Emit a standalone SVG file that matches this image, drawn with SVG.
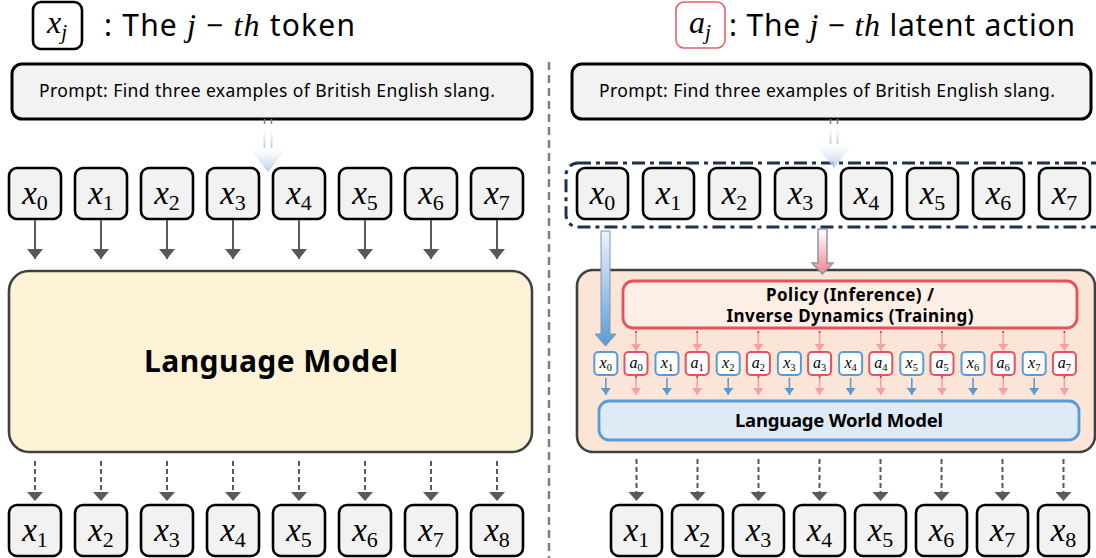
<svg xmlns="http://www.w3.org/2000/svg" width="1096" height="558" viewBox="0 0 1096 558">
<style>
.sans{font-family:"Noto Sans","Open Sans","DejaVu Sans",sans-serif;fill:#000}
.bold{font-weight:700}
.mi{font-family:"Liberation Serif","Times New Roman",serif;font-style:italic}
.tok rect{fill:#f2f2f2;stroke:#000;stroke-width:2.6}
.tok text{font-family:"Liberation Serif","Times New Roman",serif;text-anchor:middle;font-size:33px;fill:#000}
.tok .v{font-style:italic}
.tok .s{font-size:22px;font-style:normal}
.mx rect{fill:#fff;stroke:#5b9bd5;stroke-width:2}
.ma rect{fill:#fff;stroke:#e8505b;stroke-width:2}
.mini text{font-family:"Liberation Serif","Times New Roman",serif;text-anchor:middle;font-size:16px;fill:#000}
.mini .v{font-style:italic}
.mini .s{font-size:10.5px}
.ga{stroke:#595959;stroke-width:2;fill:none}
.gd{stroke:#595959;stroke-width:2;fill:none;stroke-dasharray:5 3}
.pa{stroke:#f4a0a6;stroke-width:1.6;fill:none}
.ba{stroke:#5b9bd5;stroke-width:1.6;fill:none}
.dot{fill:#c0304a}
</style>
<defs>
<marker id="hG" markerUnits="userSpaceOnUse" markerWidth="10" markerHeight="16" refX="10" refY="8" orient="auto" viewBox="0 0 10 16"><path d="M0,0L10,8L0,16z" fill="#595959"/></marker>
<marker id="hP" markerUnits="userSpaceOnUse" markerWidth="7" markerHeight="10" refX="7" refY="5" orient="auto" viewBox="0 0 7 10"><path d="M0,0L7,5L0,10z" fill="#f4a0a6"/></marker>
<marker id="hB" markerUnits="userSpaceOnUse" markerWidth="7" markerHeight="10" refX="7" refY="5" orient="auto" viewBox="0 0 7 10"><path d="M0,0L7,5L0,10z" fill="#5b9bd5"/></marker>
<linearGradient id="gBlue" x1="0" y1="0" x2="0" y2="1"><stop offset="0" stop-color="#eef3fa"/><stop offset="1" stop-color="#5b9bd5"/></linearGradient>
<linearGradient id="gPink" x1="0" y1="0" x2="0" y2="1"><stop offset="0" stop-color="#ffffff"/><stop offset="1" stop-color="#f4868a"/></linearGradient>
<linearGradient id="gPrompt" x1="0" y1="0" x2="0" y2="1"><stop offset="0" stop-color="#ffffff" stop-opacity="0.3"/><stop offset="1" stop-color="#b4c7e7"/></linearGradient>
</defs>

<!-- divider -->
<line x1="549" y1="62" x2="549" y2="558" stroke="#808080" stroke-width="2.5" stroke-dasharray="8 5"/>

<!-- legends -->
<g id="legend-token">
<rect x="33" y="2" width="49" height="47" rx="8" fill="#fff" stroke="#000" stroke-width="2.6"/>
<text x="57" y="33" class="mi" font-size="32" text-anchor="middle">x<tspan font-size="21" dy="6">j</tspan></text>
<text x="104" y="36" class="sans" font-size="30" textLength="251">: The <tspan class="mi" font-size="32">j</tspan> − <tspan class="mi" font-size="32">th</tspan> token</text>
</g>
<g id="legend-action">
<rect x="676" y="2" width="49" height="46" rx="8" fill="#fff" stroke="#e8606a" stroke-width="1.6"/>
<text x="700" y="33" class="mi" font-size="32" text-anchor="middle">a<tspan font-size="21" dy="6">j</tspan></text>
<text x="729" y="36" class="sans" font-size="30" textLength="346">: The <tspan class="mi" font-size="32">j</tspan> − <tspan class="mi" font-size="32">th</tspan> latent action</text>
</g>

<!-- prompts -->
<g id="prompt-left">
<rect x="12" y="64" width="520" height="55" rx="10" fill="#f2f2f2" stroke="#000" stroke-width="3"/>
<text x="39" y="97" class="sans" font-size="17.5" textLength="456">Prompt: Find three examples of British English slang.</text>
</g>
<g id="prompt-right">
<rect x="572" y="64" width="519" height="55" rx="10" fill="#f2f2f2" stroke="#000" stroke-width="3"/>
<text x="599" y="97" class="sans" font-size="17.5" textLength="456">Prompt: Find three examples of British English slang.</text>
</g>

<!-- right input group outline -->
<rect id="input-group" x="566" y="163" width="545" height="64" rx="12" fill="none" stroke="#1f3050" stroke-width="3" stroke-dasharray="13 5 4 5"/>

<!-- left top tokens -->
<g id="left-input" class="tok">
<g id="L-in-0"><rect x="9" y="168" width="52" height="51" rx="8"/><text x="35" y="204"><tspan class="v">x</tspan><tspan class="s" dy="6">0</tspan></text></g>
<g id="L-in-1"><rect x="75" y="168" width="52" height="51" rx="8"/><text x="101" y="204"><tspan class="v">x</tspan><tspan class="s" dy="6">1</tspan></text></g>
<g id="L-in-2"><rect x="141" y="168" width="52" height="51" rx="8"/><text x="167" y="204"><tspan class="v">x</tspan><tspan class="s" dy="6">2</tspan></text></g>
<g id="L-in-3"><rect x="207" y="168" width="52" height="51" rx="8"/><text x="233" y="204"><tspan class="v">x</tspan><tspan class="s" dy="6">3</tspan></text></g>
<g id="L-in-4"><rect x="273" y="168" width="52" height="51" rx="8"/><text x="299" y="204"><tspan class="v">x</tspan><tspan class="s" dy="6">4</tspan></text></g>
<g id="L-in-5"><rect x="339" y="168" width="52" height="51" rx="8"/><text x="365" y="204"><tspan class="v">x</tspan><tspan class="s" dy="6">5</tspan></text></g>
<g id="L-in-6"><rect x="405" y="168" width="52" height="51" rx="8"/><text x="431" y="204"><tspan class="v">x</tspan><tspan class="s" dy="6">6</tspan></text></g>
<g id="L-in-7"><rect x="471" y="168" width="52" height="51" rx="8"/><text x="497" y="204"><tspan class="v">x</tspan><tspan class="s" dy="6">7</tspan></text></g>
</g>

<!-- left language model -->
<g id="language-model">
<rect x="9" y="271" width="523" height="181" rx="20" fill="#fef3d6" stroke="#404040" stroke-width="2.6"/>
<text x="271" y="372" class="sans bold" font-size="30" text-anchor="middle" textLength="254">Language Model</text>
</g>

<!-- left output tokens -->
<g id="left-output" class="tok">
<g id="L-out-1"><rect x="9" y="505" width="52" height="51" rx="8"/><text x="35" y="541"><tspan class="v">x</tspan><tspan class="s" dy="6">1</tspan></text></g>
<g id="L-out-2"><rect x="75" y="505" width="52" height="51" rx="8"/><text x="101" y="541"><tspan class="v">x</tspan><tspan class="s" dy="6">2</tspan></text></g>
<g id="L-out-3"><rect x="141" y="505" width="52" height="51" rx="8"/><text x="167" y="541"><tspan class="v">x</tspan><tspan class="s" dy="6">3</tspan></text></g>
<g id="L-out-4"><rect x="207" y="505" width="52" height="51" rx="8"/><text x="233" y="541"><tspan class="v">x</tspan><tspan class="s" dy="6">4</tspan></text></g>
<g id="L-out-5"><rect x="273" y="505" width="52" height="51" rx="8"/><text x="299" y="541"><tspan class="v">x</tspan><tspan class="s" dy="6">5</tspan></text></g>
<g id="L-out-6"><rect x="339" y="505" width="52" height="51" rx="8"/><text x="365" y="541"><tspan class="v">x</tspan><tspan class="s" dy="6">6</tspan></text></g>
<g id="L-out-7"><rect x="405" y="505" width="52" height="51" rx="8"/><text x="431" y="541"><tspan class="v">x</tspan><tspan class="s" dy="6">7</tspan></text></g>
<g id="L-out-8"><rect x="471" y="505" width="52" height="51" rx="8"/><text x="497" y="541"><tspan class="v">x</tspan><tspan class="s" dy="6">8</tspan></text></g>
</g>

<!-- right top tokens -->
<g id="right-input" class="tok">
<g id="R-in-0"><rect x="577" y="168" width="51" height="51" rx="8"/><text x="602.5" y="204"><tspan class="v">x</tspan><tspan class="s" dy="6">0</tspan></text></g>
<g id="R-in-1"><rect x="643" y="168" width="51" height="51" rx="8"/><text x="668.5" y="204"><tspan class="v">x</tspan><tspan class="s" dy="6">1</tspan></text></g>
<g id="R-in-2"><rect x="709" y="168" width="51" height="51" rx="8"/><text x="734.5" y="204"><tspan class="v">x</tspan><tspan class="s" dy="6">2</tspan></text></g>
<g id="R-in-3"><rect x="775" y="168" width="51" height="51" rx="8"/><text x="800.5" y="204"><tspan class="v">x</tspan><tspan class="s" dy="6">3</tspan></text></g>
<g id="R-in-4"><rect x="841" y="168" width="51" height="51" rx="8"/><text x="866.5" y="204"><tspan class="v">x</tspan><tspan class="s" dy="6">4</tspan></text></g>
<g id="R-in-5"><rect x="907" y="168" width="51" height="51" rx="8"/><text x="932.5" y="204"><tspan class="v">x</tspan><tspan class="s" dy="6">5</tspan></text></g>
<g id="R-in-6"><rect x="973" y="168" width="51" height="51" rx="8"/><text x="998.5" y="204"><tspan class="v">x</tspan><tspan class="s" dy="6">6</tspan></text></g>
<g id="R-in-7"><rect x="1039" y="168" width="51" height="51" rx="8"/><text x="1064.5" y="204"><tspan class="v">x</tspan><tspan class="s" dy="6">7</tspan></text></g>
</g>

<!-- right model container -->
<g id="latent-model">
<rect x="577" y="270" width="518" height="182" rx="16" fill="#fbe5d6" stroke="#404040" stroke-width="2.6"/>
</g>
<g id="policy">
<rect x="623" y="281" width="454" height="47" rx="10" fill="#fdeee6" stroke="#e8505b" stroke-width="2.8"/>
<text x="850" y="301" class="sans bold" font-size="17" text-anchor="middle" textLength="168">Policy (Inference) /</text>
<text x="850" y="322" class="sans bold" font-size="17" text-anchor="middle" textLength="247">Inverse Dynamics (Training)</text>
</g>
<g id="world-model">
<rect x="599" y="401" width="480" height="39" rx="10" fill="#deebf7" stroke="#5b9bd5" stroke-width="2.8"/>
<text x="839" y="427" class="sans bold" font-size="18.5" text-anchor="middle" textLength="208">Language World Model</text>
</g>

<!-- mini tokens -->
<g id="mini-tokens" class="mini">
<g id="m-x0" class="mx"><rect x="594.3" y="352" width="23" height="23" rx="4"/><text x="605.8" y="368"><tspan class="v">x</tspan><tspan class="s" dy="3">0</tspan></text></g>
<g id="m-a0" class="ma"><rect x="624.5" y="352" width="23" height="23" rx="4"/><text x="636" y="368"><tspan class="v">a</tspan><tspan class="s" dy="3">0</tspan></text></g>
<g id="m-x1" class="mx"><rect x="655.5" y="352" width="23" height="23" rx="4"/><text x="667" y="368"><tspan class="v">x</tspan><tspan class="s" dy="3">1</tspan></text></g>
<g id="m-a1" class="ma"><rect x="685.7" y="352" width="23" height="23" rx="4"/><text x="697.2" y="368"><tspan class="v">a</tspan><tspan class="s" dy="3">1</tspan></text></g>
<g id="m-x2" class="mx"><rect x="716.7" y="352" width="23" height="23" rx="4"/><text x="728.2" y="368"><tspan class="v">x</tspan><tspan class="s" dy="3">2</tspan></text></g>
<g id="m-a2" class="ma"><rect x="746.9" y="352" width="23" height="23" rx="4"/><text x="758.4" y="368"><tspan class="v">a</tspan><tspan class="s" dy="3">2</tspan></text></g>
<g id="m-x3" class="mx"><rect x="777.9" y="352" width="23" height="23" rx="4"/><text x="789.4" y="368"><tspan class="v">x</tspan><tspan class="s" dy="3">3</tspan></text></g>
<g id="m-a3" class="ma"><rect x="808.1" y="352" width="23" height="23" rx="4"/><text x="819.6" y="368"><tspan class="v">a</tspan><tspan class="s" dy="3">3</tspan></text></g>
<g id="m-x4" class="mx"><rect x="839.1" y="352" width="23" height="23" rx="4"/><text x="850.6" y="368"><tspan class="v">x</tspan><tspan class="s" dy="3">4</tspan></text></g>
<g id="m-a4" class="ma"><rect x="869.3" y="352" width="23" height="23" rx="4"/><text x="880.8" y="368"><tspan class="v">a</tspan><tspan class="s" dy="3">4</tspan></text></g>
<g id="m-x5" class="mx"><rect x="900.3" y="352" width="23" height="23" rx="4"/><text x="911.8" y="368"><tspan class="v">x</tspan><tspan class="s" dy="3">5</tspan></text></g>
<g id="m-a5" class="ma"><rect x="930.5" y="352" width="23" height="23" rx="4"/><text x="942" y="368"><tspan class="v">a</tspan><tspan class="s" dy="3">5</tspan></text></g>
<g id="m-x6" class="mx"><rect x="961.5" y="352" width="23" height="23" rx="4"/><text x="973" y="368"><tspan class="v">x</tspan><tspan class="s" dy="3">6</tspan></text></g>
<g id="m-a6" class="ma"><rect x="991.7" y="352" width="23" height="23" rx="4"/><text x="1003.2" y="368"><tspan class="v">a</tspan><tspan class="s" dy="3">6</tspan></text></g>
<g id="m-x7" class="mx"><rect x="1022.7" y="352" width="23" height="23" rx="4"/><text x="1034.2" y="368"><tspan class="v">x</tspan><tspan class="s" dy="3">7</tspan></text></g>
<g id="m-a7" class="ma"><rect x="1052.9" y="352" width="23" height="23" rx="4"/><text x="1064.4" y="368"><tspan class="v">a</tspan><tspan class="s" dy="3">7</tspan></text></g>
</g>

<!-- right output tokens -->
<g id="right-output" class="tok">
<g id="R-out-1"><rect x="611" y="505" width="51" height="51" rx="8"/><text x="636.5" y="541"><tspan class="v">x</tspan><tspan class="s" dy="6">1</tspan></text></g>
<g id="R-out-2"><rect x="672" y="505" width="51" height="51" rx="8"/><text x="697.5" y="541"><tspan class="v">x</tspan><tspan class="s" dy="6">2</tspan></text></g>
<g id="R-out-3"><rect x="733" y="505" width="51" height="51" rx="8"/><text x="758.5" y="541"><tspan class="v">x</tspan><tspan class="s" dy="6">3</tspan></text></g>
<g id="R-out-4"><rect x="794" y="505" width="51" height="51" rx="8"/><text x="819.5" y="541"><tspan class="v">x</tspan><tspan class="s" dy="6">4</tspan></text></g>
<g id="R-out-5"><rect x="855" y="505" width="51" height="51" rx="8"/><text x="880.5" y="541"><tspan class="v">x</tspan><tspan class="s" dy="6">5</tspan></text></g>
<g id="R-out-6"><rect x="916" y="505" width="51" height="51" rx="8"/><text x="941.5" y="541"><tspan class="v">x</tspan><tspan class="s" dy="6">6</tspan></text></g>
<g id="R-out-7"><rect x="977" y="505" width="51" height="51" rx="8"/><text x="1002.5" y="541"><tspan class="v">x</tspan><tspan class="s" dy="6">7</tspan></text></g>
<g id="R-out-8"><rect x="1038" y="505" width="51" height="51" rx="8"/><text x="1063.5" y="541"><tspan class="v">x</tspan><tspan class="s" dy="6">8</tspan></text></g>
</g>

<!-- connectors -->
<g id="connectors">
<g id="prompt-arrow-left">
<path d="M264.5,119V124M271.5,119V124" stroke="#7f7f7f" stroke-width="1.5"/>
<path d="M264.5,126V148M271.5,126V148" stroke="url(#gPrompt)" stroke-width="2"/>
<path d="M248,147L288,147L268,172z" fill="url(#gPrompt)"/>
</g>
<g id="prompt-arrow-right">
<path d="M830.5,119V124M837.5,119V124" stroke="#7f7f7f" stroke-width="1.5"/>
<path d="M830.5,124V144M837.5,124V144" stroke="url(#gPrompt)" stroke-width="2"/>
<path d="M814,143L854,143L834,168z" fill="url(#gPrompt)"/>
</g>
<!-- left solid arrows -->
<g class="ga" marker-end="url(#hG)">
<path d="M35,220V259"/><path d="M101,220V259"/><path d="M167,220V259"/><path d="M233,220V259"/><path d="M299,220V259"/><path d="M365,220V259"/><path d="M431,220V259"/><path d="M497,220V259"/>
</g>
<!-- left dashed outputs -->
<g class="gd">
<path d="M35,461V494"/><path d="M101,461V494"/><path d="M167,461V494"/><path d="M233,461V494"/><path d="M299,461V494"/><path d="M365,461V494"/><path d="M431,461V494"/><path d="M497,461V494"/>
</g>
<g fill="#595959">
<path d="M27,492h16l-8,9z"/><path d="M93,492h16l-8,9z"/><path d="M159,492h16l-8,9z"/><path d="M225,492h16l-8,9z"/><path d="M291,492h16l-8,9z"/><path d="M357,492h16l-8,9z"/><path d="M423,492h16l-8,9z"/><path d="M489,492h16l-8,9z"/>
</g>
<!-- right dashed outputs -->
<g class="gd">
<path d="M636.5,459V494"/><path d="M697.5,459V494"/><path d="M758.5,459V494"/><path d="M819.5,459V494"/><path d="M880.5,459V494"/><path d="M941.5,459V494"/><path d="M1002.5,459V494"/><path d="M1063.5,459V494"/>
</g>
<g fill="#595959">
<path d="M628.5,492h16l-8,9z"/><path d="M689.5,492h16l-8,9z"/><path d="M750.5,492h16l-8,9z"/><path d="M811.5,492h16l-8,9z"/><path d="M872.5,492h16l-8,9z"/><path d="M933.5,492h16l-8,9z"/><path d="M994.5,492h16l-8,9z"/><path d="M1055.5,492h16l-8,9z"/>
</g>
<!-- big blue arrow -->
<path d="M601,231H610V334H616L605.5,346L595,334H601z" fill="url(#gBlue)" stroke="#8497b0" stroke-width="1"/>
<!-- pink arrow into policy -->
<path d="M818,229H827V263H833L822.5,274L812,263H818z" fill="url(#gPink)" stroke="#8497b0" stroke-width="1.5"/>
<!-- policy -> actions -->
<g class="pa" marker-end="url(#hP)">
<path d="M636,332V351"/><path d="M697.2,332V351"/><path d="M758.4,332V351"/><path d="M819.6,332V351"/><path d="M880.8,332V351"/><path d="M942,332V351"/><path d="M1003.2,332V351"/><path d="M1064.4,332V351"/>
</g>
<g class="dot">
<circle cx="636" cy="332" r="1"/><circle cx="697.2" cy="332" r="1"/><circle cx="758.4" cy="332" r="1"/><circle cx="819.6" cy="332" r="1"/><circle cx="880.8" cy="332" r="1"/><circle cx="942" cy="332" r="1"/><circle cx="1003.2" cy="332" r="1"/><circle cx="1064.4" cy="332" r="1"/>
</g>
<!-- actions -> world model -->
<g class="pa" marker-end="url(#hP)">
<path d="M636,377V395"/><path d="M697.2,377V395"/><path d="M758.4,377V395"/><path d="M819.6,377V395"/><path d="M880.8,377V395"/><path d="M942,377V395"/><path d="M1003.2,377V395"/><path d="M1064.4,377V395"/>
</g>
<g class="dot">
<circle cx="636" cy="377" r="1"/><circle cx="697.2" cy="377" r="1"/><circle cx="758.4" cy="377" r="1"/><circle cx="819.6" cy="377" r="1"/><circle cx="880.8" cy="377" r="1"/><circle cx="942" cy="377" r="1"/><circle cx="1003.2" cy="377" r="1"/><circle cx="1064.4" cy="377" r="1"/>
</g>
<!-- tokens -> world model -->
<g class="ba" marker-end="url(#hB)">
<path d="M605.8,378V395"/><path d="M667,378V395"/><path d="M728.2,378V395"/><path d="M789.4,378V395"/><path d="M850.6,378V395"/><path d="M911.8,378V395"/><path d="M973,378V395"/><path d="M1034.2,378V395"/>
</g>
</g>
</svg>
